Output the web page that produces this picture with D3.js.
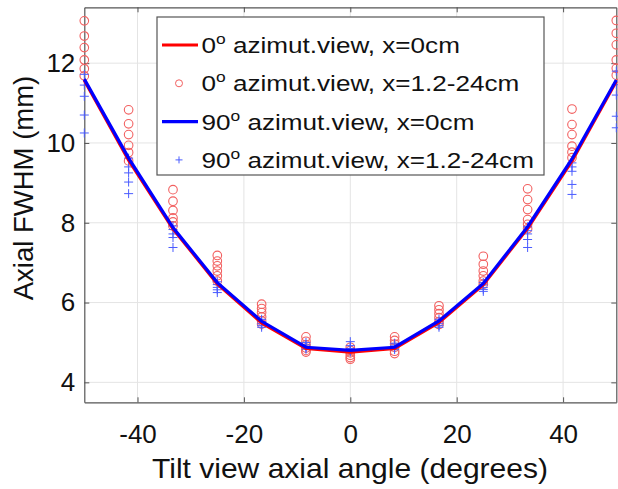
<!DOCTYPE html>
<html>
<head>
<meta charset="utf-8">
<script src="https://cdn.jsdelivr.net/npm/d3@7"></script>
<style>
  body { margin: 0; background: #fff; }
  svg text { font-family: "Liberation Sans", Arial, sans-serif; fill: #111; }
</style>
</head>
<body>
<div id="visualization"></div>
<script>
// tilt angles (degrees)
const angles = [-50, -41.67, -33.33, -25, -16.67, -8.33, 0, 8.33, 16.67, 25, 33.33, 41.67, 50];

// x=0cm curves
const red0 = [11.57, 9.57, 7.85, 6.47, 5.49, 4.85, 4.76, 4.85, 5.5, 6.45, 7.86, 9.55, 11.55];
const blue0 = [11.6, 9.62, 7.88, 6.5, 5.53, 4.88, 4.8, 4.88, 5.54, 6.48, 7.9, 9.6, 11.58];

// x=1.2-24cm, 0 deg azimuth (circles), one list per angle
const redOff = [
  [13.06, 12.68, 12.39, 12.08, 11.86, 11.68],
  [10.83, 10.48, 10.21, 9.94, 9.76, 9.55],
  [8.83, 8.54, 8.31, 8.12, 8.02, 7.92],
  [7.18, 7.04, 6.92, 6.79, 6.67, 6.54],
  [5.96, 5.85, 5.75, 5.64, 5.54, 5.46],
  [5.14, 5.03, 4.94, 4.86, 4.8, 4.76],
  [4.88, 4.8, 4.74, 4.68, 4.62, 4.58],
  [5.14, 5.05, 4.96, 4.88, 4.78, 4.72],
  [5.92, 5.82, 5.72, 5.62, 5.52, 5.45],
  [7.16, 6.96, 6.79, 6.67, 6.54, 6.46],
  [8.85, 8.58, 8.33, 8.08, 7.96, 7.85],
  [10.85, 10.46, 10.21, 9.92, 9.77, 9.63],
  [13.07, 12.75, 12.46, 12.08, 11.87, 11.7]
];

// x=1.2-24cm, 90 deg azimuth (pluses)
const blueOff = [
  [11.72, 11.45, 11.17, 10.7, 10.25],
  [9.62, 9.4, 9.25, 9.02, 8.73],
  [7.92, 7.83, 7.72, 7.63, 7.38],
  [6.52, 6.45, 6.38, 6.32, 6.25],
  [5.58, 5.52, 5.47, 5.42, 5.38],
  [5.0, 4.94, 4.9, 4.87, 4.83],
  [5.02, 4.92, 4.85, 4.8, 4.76],
  [4.98, 4.93, 4.89, 4.86, 4.82],
  [5.58, 5.52, 5.47, 5.42, 5.38],
  [6.5, 6.44, 6.38, 6.33, 6.28],
  [7.9, 7.8, 7.72, 7.58, 7.38],
  [9.5, 9.4, 9.29, 8.96, 8.71],
  [11.8, 11.46, 11.2, 10.67, 10.38]
];

const xTicks = [-40, -20, 0, 20, 40];
const yTicks = [4, 6, 8, 10, 12];

const legendItems = [
  { deg: '0', rest: ' azimut.view, x=0cm', kind: 'line', color: '#ff0000' },
  { deg: '0', rest: ' azimut.view, x=1.2-24cm', kind: 'circle', color: '#f26060' },
  { deg: '90', rest: ' azimut.view, x=0cm', kind: 'line', color: '#0000ff' },
  { deg: '90', rest: ' azimut.view, x=1.2-24cm', kind: 'plus', color: '#4a5cff' }
];

const width = 618, height = 489;
const margin = { top: 7.3, right: 1.7, bottom: 86.7, left: 84.3 };
const innerWidth = width - margin.left - margin.right;
const innerHeight = height - margin.top - margin.bottom;

const svg = d3.select('#visualization')
  .append('svg')
  .attr('width', width)
  .attr('height', height);

const chart = svg.append('g')
  .attr('transform', `translate(${margin.left},${margin.top})`);

const x = d3.scaleLinear().domain([-50, 50]).range([0, innerWidth]);
const y = d3.scaleLinear().domain([3.5, 13.4]).range([innerHeight, 0]);

// grid
chart.append('g').selectAll('line')
  .data(xTicks)
  .join('line')
  .attr('x1', d => x(d)).attr('x2', d => x(d))
  .attr('y1', 0).attr('y2', innerHeight)
  .attr('stroke', '#e4e4e4').attr('stroke-width', 1);

chart.append('g').selectAll('line')
  .data(yTicks)
  .join('line')
  .attr('x1', 0).attr('x2', innerWidth)
  .attr('y1', d => y(d)).attr('y2', d => y(d))
  .attr('stroke', '#e4e4e4').attr('stroke-width', 1);

// axes (MATLAB-style, ticks inside, box on)
const plain = d => String(d);
const xAxis = chart.append('g')
  .attr('transform', `translate(0,${innerHeight})`)
  .call(d3.axisBottom(x).tickValues(xTicks).tickFormat(plain).tickSize(-5).tickPadding(22).tickSizeOuter(0));
const yAxis = chart.append('g')
  .call(d3.axisLeft(y).tickValues(yTicks).tickFormat(plain).tickSize(-5).tickPadding(9).tickSizeOuter(0));
chart.append('g')
  .call(d3.axisTop(x).tickValues(xTicks).tickSize(-5).tickFormat('').tickSizeOuter(0));
chart.append('g')
  .attr('transform', `translate(${innerWidth},0)`)
  .call(d3.axisRight(y).tickValues(yTicks).tickSize(-5).tickFormat('').tickSizeOuter(0));

chart.selectAll('.domain').attr('stroke', '#555').attr('stroke-width', 1.2);
chart.selectAll('.tick line').attr('stroke', '#555');
[xAxis, yAxis].forEach(a => a.selectAll('text')
  .style('font-size', '26px')
  .style('font-family', '"Liberation Sans", Arial, sans-serif')
  .attr('fill', '#111'));

// markers
const circleData = [];
redOff.forEach((vals, i) => vals.forEach(v => circleData.push({ a: angles[i], v })));
const plusData = [];
blueOff.forEach((vals, i) => vals.forEach(v => plusData.push({ a: angles[i], v })));

const plot = chart.append('g');

plot.selectAll('circle.off')
  .data(circleData)
  .join('circle')
  .attr('class', 'off')
  .attr('cx', d => x(d.a))
  .attr('cy', d => y(d.v))
  .attr('r', 4.3)
  .attr('fill', 'none')
  .attr('stroke', '#f26060')
  .attr('stroke-width', 1.1);

plot.selectAll('path.plus')
  .data(plusData)
  .join('path')
  .attr('class', 'plus')
  .attr('transform', d => `translate(${x(d.a)},${y(d.v)})`)
  .attr('d', 'M-4.5,0H4.5M0,-4.5V4.5')
  .attr('stroke', '#4a5cff')
  .attr('stroke-width', 1);

const line = d3.line()
  .x((d, i) => x(angles[i]))
  .y(d => y(d));

plot.append('path')
  .datum(red0)
  .attr('d', line)
  .attr('fill', 'none')
  .attr('stroke', '#ff0000')
  .attr('stroke-width', 3.2);

plot.append('path')
  .datum(blue0)
  .attr('d', line)
  .attr('fill', 'none')
  .attr('stroke', '#0000ff')
  .attr('stroke-width', 3.2);

// axis titles
svg.append('text')
  .attr('x', 152)
  .attr('y', 478)
  .attr('textLength', 396)
  .attr('lengthAdjust', 'spacingAndGlyphs')
  .style('font-size', '28px')
  .text('Tilt view axial angle (degrees)');

svg.append('text')
  .attr('transform', 'translate(33,188) rotate(-90)')
  .attr('text-anchor', 'middle')
  .style('font-size', '27.5px')
  .text('Axial FWHM (mm)');

// legend
const legend = svg.append('g').attr('transform', 'translate(157,17)');
legend.append('rect')
  .attr('width', 387)
  .attr('height', 158)
  .attr('fill', '#fff')
  .attr('stroke', '#555')
  .attr('stroke-width', 1.2);

legendItems.forEach((d, i) => {
  const row = legend.append('g').attr('transform', `translate(0, ${28 + i * 38.3})`);
  if (d.kind === 'line') {
    row.append('line')
      .attr('x1', 5).attr('x2', 41)
      .attr('y1', 0).attr('y2', 0)
      .attr('stroke', d.color).attr('stroke-width', 3.2);
  } else if (d.kind === 'circle') {
    row.append('circle')
      .attr('cx', 22).attr('cy', 0).attr('r', 3.5)
      .attr('fill', 'none').attr('stroke', d.color).attr('stroke-width', 1);
  } else {
    row.append('path')
      .attr('transform', 'translate(22,0)')
      .attr('d', 'M-3.5,0H3.5M0,-3.5V3.5')
      .attr('stroke', d.color).attr('stroke-width', 1);
  }
  // legend text looks horizontally wide in the source, stretch a bit
  const t = row.append('text')
    .attr('transform', 'translate(44.5,8) scale(1.16,1)')
    .style('font-size', '22.5px');
  t.append('tspan').text(d.deg);
  t.append('tspan').attr('dy', -9).style('font-size', '15px').text('o');
  t.append('tspan').attr('dy', 9).text(d.rest);
});
</script>
</body>
</html>
